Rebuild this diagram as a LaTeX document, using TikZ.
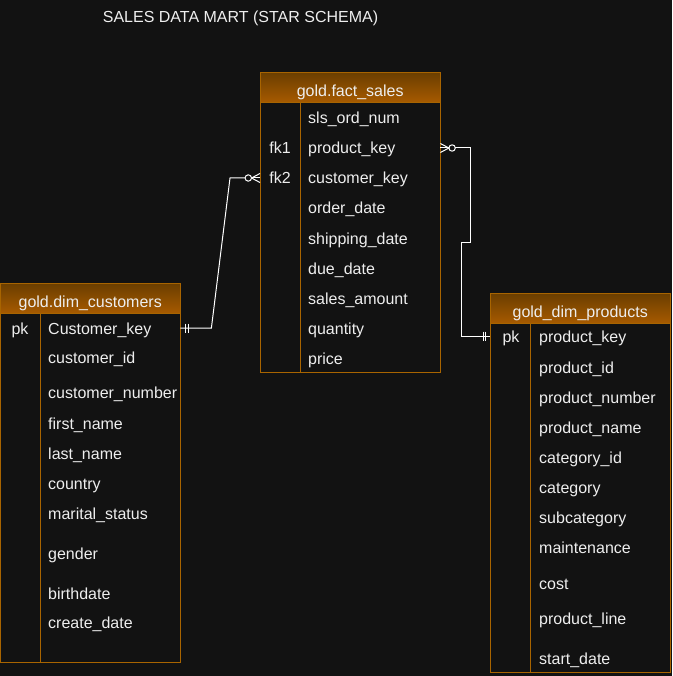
\documentclass[tikz,border=0pt]{standalone}
\usepackage{fontspec}
\setmainfont{Liberation Sans}
\usetikzlibrary{positioning, calc}
\usepackage{xcolor}
\definecolor{bg}{HTML}{121212}
\definecolor{edgeorange}{HTML}{A86400}
\definecolor{hdrtop}{HTML}{6A3E00}
\definecolor{hdrbot}{HTML}{A65A00}
\definecolor{txt}{HTML}{EEEEEE}

\begin{document}
\begin{tikzpicture}[x=1pt,y=-1pt,font=\fontsize{16}{19}\selectfont]
    \tikzstyle{hdr}=[shape=rectangle,draw=edgeorange,top color=hdrtop,bottom color=hdrbot,anchor=north west,minimum width=180pt,minimum height=30pt,inner sep=0pt]
    \tikzstyle{tbl}=[shape=rectangle,draw=edgeorange,fill=bg,anchor=north west,minimum width=180pt,inner sep=0pt]
    \tikzstyle{hdrtext}=[anchor=base,inner sep=0pt,text=txt]
    \tikzstyle{field}=[anchor=base west,inner sep=0pt,text=txt]
    \tikzstyle{keycol}=[anchor=base,inner sep=0pt,text=txt,text height=12pt,text depth=0pt]
    \tikzstyle{rel}=[draw=white,line width=1pt]

    \fill[bg] (0,0) rectangle (672,676);
    \useasboundingbox (0,0) rectangle (672,676);

    \node[hdrtext] (title) at (240.5,22.7) {SALES DATA MART (STAR SCHEMA)};

    % fact table
    \node[hdr] (fh) at (260,72) {};
    \node[hdrtext] at ([yshift=5.8pt]fh.south) {gold.fact\_sales};
    \node[tbl,minimum height=270pt] (fb) at (260,102) {};
    \draw[edgeorange] ([xshift=40pt]fb.north west) -- ([xshift=40pt]fb.south west);
    \node[keycol] (fk1) at (280,154) {fk1};
    \node[keycol] (fk2) at (280,184) {fk2};
    \node[field] (f1) at (308,124) {sls\_ord\_num};
    \node[field] (f2) at (308,154) {product\_key};
    \node[field] (f3) at (308,184) {customer\_key};
    \node[field] (f4) at (308,214) {order\_date};
    \node[field] (f5) at (308,244) {shipping\_date};
    \node[field] (f6) at (308,274) {due\_date};
    \node[field] (f7) at (308,304) {sales\_amount};
    \node[field] (f8) at (308,334) {quantity};
    \node[field] (f9) at (308,364) {price};

    % customers
    \node[hdr] (ch) at (0,283) {};
    \node[hdrtext] at ([yshift=6.3pt]ch.south) {gold.dim\_customers};
    \node[tbl,minimum height=349pt] (cb) at (0,313) {};
    \draw[edgeorange] ([xshift=40pt]cb.north west) -- ([xshift=40pt]cb.south west);
    \node[keycol] (cpk) at (20,334) {pk};
    \node[field] (c1) at (48,334) {Customer\_key};
    \node[field] (c2) at (48,363) {customer\_id};
    \node[field] (c3) at (48,398) {customer\_number};
    \node[field] (c4) at (48,429) {first\_name};
    \node[field] (c5) at (48,459) {last\_name};
    \node[field] (c6) at (48,489) {country};
    \node[field] (c7) at (48,519) {marital\_status};
    \node[field] (c8) at (48,559) {gender};
    \node[field] (c9) at (48,599) {birthdate};
    \node[field] (c10) at (48,628) {create\_date};

    % products
    \node[hdr] (ph) at (490,293) {};
    \node[hdrtext] at ([yshift=6.3pt]ph.south) {gold\_dim\_products};
    \node[tbl,minimum height=349pt] (pb) at (490,323) {};
    \draw[edgeorange] ([xshift=40pt]pb.north west) -- ([xshift=40pt]pb.south west);
    \node[keycol] (ppk) at (511,342) {pk};
    \node[field] (p1) at (539,342) {product\_key};
    \node[field] (p2) at (539,373) {product\_id};
    \node[field] (p3) at (539,403) {product\_number};
    \node[field] (p4) at (539,433) {product\_name};
    \node[field] (p5) at (539,463) {category\_id};
    \node[field] (p6) at (539,493) {category};
    \node[field] (p7) at (539,523) {subcategory};
    \node[field] (p8) at (539,553) {maintenance};
    \node[field] (p9) at (539,589) {cost};
    \node[field] (p10) at (539,624) {product\_line};
    \node[field] (p11) at (539,664) {start\_date};

    % relations
    \coordinate (ckend) at (cb.east |- cpk);
    \coordinate (fk2end) at (fb.west |- fk2);
    \coordinate (fk1end) at (fb.east |- fk1);
    \coordinate (pkend) at (pb.west |- ppk);

    \draw[rel] (ckend) -- ++(31,0) -- ($(fk2end)+(-30,0)$) -- ($(fk2end)+(-15,0)$);
    \draw[rel] ([xshift=5pt]ckend) ++(0,-4.5) -- ++(0,9);
    \draw[rel] ([xshift=8.3pt]ckend) ++(0,-4.5) -- ++(0,9);
    \draw[rel,fill=bg] ($(fk2end)+(-11.7,0)$) circle (3.2pt);
    \draw[rel] ($(fk2end)+(-8.5,0)$) -- ($(fk2end)+(0,-4.5)$);
    \draw[rel] ($(fk2end)+(-8.5,0)$) -- (fk2end);
    \draw[rel] ($(fk2end)+(-8.5,0)$) -- ($(fk2end)+(0,4.5)$);

    \draw[rel] ($(fk1end)+(15,0)$) -- ++(15,0) -- ++(0,94) -- ++(-9,0) |- (pkend);
    \draw[rel] ([xshift=-6.7pt]pkend) ++(0,-4.5) -- ++(0,9);
    \draw[rel] ([xshift=-4.3pt]pkend) ++(0,-4.5) -- ++(0,9);
    \draw[rel,fill=bg] ($(fk1end)+(11.7,0)$) circle (3.2pt);
    \draw[rel] ($(fk1end)+(8.5,0)$) -- ($(fk1end)+(0,-4.5)$);
    \draw[rel] ($(fk1end)+(8.5,0)$) -- (fk1end);
    \draw[rel] ($(fk1end)+(8.5,0)$) -- ($(fk1end)+(0,4.5)$);

\end{tikzpicture}
\end{document}
